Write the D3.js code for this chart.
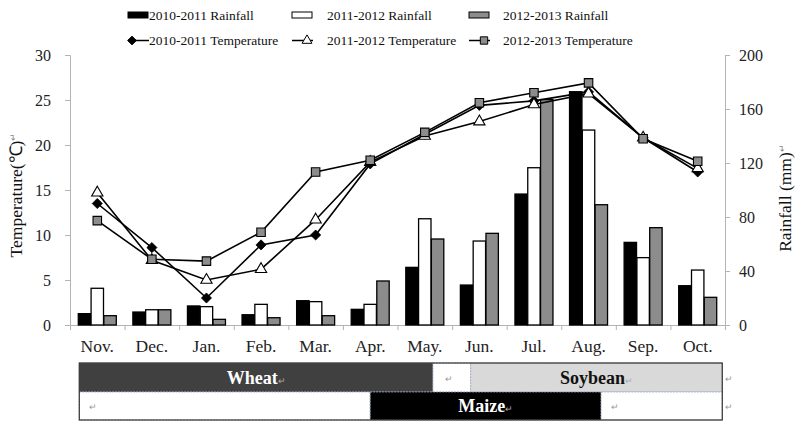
<!DOCTYPE html>
<html><head><meta charset="utf-8">
<script src="https://cdn.jsdelivr.net/npm/d3@7/dist/d3.min.js"></script>
<style>
body{margin:0;background:#fff;}
svg{display:block;font-family:"Liberation Serif","Times New Roman",serif;}
</style></head>
<body><svg id="c" width="800" height="428"></svg>
<script>
const months = ["Nov.","Dec.","Jan.","Feb.","Mar.","Apr.","May.","Jun.","Jul.","Aug.","Sep.","Oct."];
const rainNames = ["2010-2011 Rainfall","2011-2012 Rainfall","2012-2013 Rainfall"];
const tempNames = ["2010-2011 Temperature","2011-2012 Temperature","2012-2013 Temperature"];
const rain1011 = [8.4, 9.6, 14.1, 7.6, 18.0, 11.6, 42.7, 29.6, 97.0, 172.8, 61.2, 29.1];
const rain1112 = [27.2, 11.3, 13.6, 15.3, 17.3, 15.3, 78.7, 62.2, 116.5, 144.4, 49.9, 40.7];
const rain1213 = [6.9, 11.3, 4.2, 5.4, 6.9, 32.6, 63.7, 67.9, 167.0, 89.1, 72.1, 20.5];
const temp1011 = [13.5, 8.6, 3.0, 8.9, 10.0, 17.9, 21.2, 24.4, 24.9, 25.9, 20.8, 17.0];
const temp1112 = [14.7, 7.2, 5.0, 6.2, 11.7, 18.1, 21.0, 22.6, 24.5, 25.7, 20.8, 17.4];
const temp1213 = [11.6, 7.3, 7.1, 10.3, 17.0, 18.3, 21.4, 24.7, 25.8, 26.9, 20.7, 18.2];
const tempTicks = [0,5,10,15,20,25,30];
const rainTicks = [0,40,80,120,160,200];
// crop table: [label, start month, end month] (in month units from Nov. start)
const cropRow1 = [["Wheat",0.17,6.65],["",6.65,7.34],["Soybean",7.34,11.95]];
const cropRow2 = [["",0.17,5.5],["Maize",5.5,9.73],["",9.73,11.95]];

const svg = d3.select("#c");
const L = 70, R = 725, T = 55, B = 325;
const FONT = '"Liberation Serif","Times New Roman",serif';

const x = d3.scaleBand().domain(months).range([L, R]).padding(0);
const xLin = d3.scaleLinear().domain([0, 12]).range([L, R]);
const yT = d3.scaleLinear().domain([0, 30]).range([B, T]);
const yR = d3.scaleLinear().domain([0, 200]).range([B, T]);
const inner = d3.scaleBand().domain([0,1,2]).range([-19, 19]).paddingInner(0.03);

const rainSeries = [rain1011, rain1112, rain1213];
const barFills = ["#000000", "#ffffff", "#8c8c8c"];
const tempSeries = [temp1011, temp1112, temp1213];
const markerFills = ["#000000", "#ffffff", "#8c8c8c"];
const markerShapes = [d3.symbolDiamond2, d3.symbolTriangle, d3.symbolSquare];
const markerSizes = [65, 55, 72];

// axes
const axL = svg.append("g").attr("transform", `translate(${L},0)`)
  .call(d3.axisLeft(yT).tickValues(tempTicks).tickSize(5).tickPadding(14));
const axR = svg.append("g").attr("transform", `translate(${R},0)`)
  .call(d3.axisRight(yR).tickValues(rainTicks).tickSize(5).tickPadding(9));
const axB = svg.append("g").attr("transform", `translate(0,${B})`)
  .call(d3.axisBottom(xLin).tickValues(d3.range(0, 13)).tickSize(5).tickFormat(""));
const axBl = svg.append("g").attr("transform", `translate(0,${B})`)
  .call(d3.axisBottom(x).tickSize(0).tickPadding(14.5));
axBl.select(".domain").remove();
[axL, axR, axB].forEach(g => {
  g.selectAll(".domain, .tick line").attr("stroke", "#b3b3b3").attr("stroke-width", 1);
});
[axL, axR, axBl].forEach(g => {
  g.selectAll("text").attr("font-family", FONT).attr("fill", "#222");
});
axL.selectAll("text").attr("font-size", 16);
axR.selectAll("text").attr("font-size", 16);
axBl.selectAll("text").attr("font-size", 17.5);

// bars
rainSeries.forEach((s, si) => {
  svg.append("g").selectAll("rect").data(s).join("rect")
    .attr("x", (d, i) => x(months[i]) + x.bandwidth() / 2 + inner(si))
    .attr("width", inner.bandwidth())
    .attr("y", d => yR(d))
    .attr("height", d => B - yR(d))
    .attr("fill", barFills[si])
    .attr("stroke", "#000").attr("stroke-width", 1.3);
});

// lines
const line = d3.line().x((d, i) => x(months[i]) + x.bandwidth() / 2).y(d => yT(d));
tempSeries.forEach((s, si) => {
  svg.append("path").datum(s).attr("d", line)
    .attr("fill", "none").attr("stroke", "#000").attr("stroke-width", 1.6);
});
tempSeries.forEach((s, si) => {
  svg.append("g").selectAll("path").data(s).join("path")
    .attr("transform", (d, i) => `translate(${x(months[i]) + x.bandwidth() / 2},${yT(d)})`)
    .attr("d", d3.symbol().type(markerShapes[si]).size(markerSizes[si]))
    .attr("fill", markerFills[si]).attr("stroke", "#000").attr("stroke-width", si === 0 ? 0.8 : 1.1);
});

// axis titles
svg.append("text").attr("transform", "translate(22,195) rotate(-90)")
  .attr("text-anchor", "middle").attr("font-size", 17.5).attr("fill", "#111")
  .text("Temperature(℃)")
  .append("tspan").attr("font-size", 9).attr("fill", "#888").attr("dy", -6).text("↵");
svg.append("text").attr("transform", "translate(791,198) rotate(-90)")
  .attr("text-anchor", "middle").attr("font-size", 17.5).attr("fill", "#111")
  .text("Rainfall (mm)")
  .append("tspan").attr("font-size", 9).attr("fill", "#888").attr("dy", -6).text("↵");

// legend
const legX = [128, 292, 469];
const legTextX = [149, 327, 503];
rainNames.forEach((n, i) => {
  svg.append("rect").attr("x", legX[i]).attr("y", 12).attr("width", 20).attr("height", 6)
    .attr("fill", barFills[i]).attr("stroke", "#000").attr("stroke-width", 1);
  svg.append("text").attr("x", legTextX[i]).attr("y", 19.5).attr("font-size", 13.5).attr("fill", "#111").text(n);
});
tempNames.forEach((n, i) => {
  svg.append("line").attr("x1", legX[i]).attr("x2", legX[i] + 21).attr("y1", 40.5).attr("y2", 40.5)
    .attr("stroke", "#000").attr("stroke-width", 1.5);
  const mx = i === 0 ? legX[i] + 4 : legX[i] + 15;
  svg.append("path").attr("transform", `translate(${mx},40.5)`)
    .attr("d", d3.symbol().type(markerShapes[i]).size(markerSizes[i] * 0.75))
    .attr("fill", markerFills[i]).attr("stroke", "#000").attr("stroke-width", 1);
  svg.append("text").attr("x", legTextX[i]).attr("y", 45).attr("font-size", 13.5).attr("fill", "#111").text(n);
});

// crop table
const rowY = [363, 392, 420];
const cellFill = {"Wheat": "#404040", "Soybean": "#d9d9d9", "Maize": "#000000", "": "#ffffff"};
const cellText = {"Wheat": "#ffffff", "Soybean": "#111111", "Maize": "#ffffff"};
[cropRow1, cropRow2].forEach((row, ri) => {
  row.forEach(c => {
    const x0 = xLin(c[1]), x1 = xLin(c[2]);
    svg.append("rect").attr("x", x0).attr("y", rowY[ri]).attr("width", x1 - x0)
      .attr("height", rowY[ri + 1] - rowY[ri]).attr("fill", cellFill[c[0]])
      .attr("stroke", "#9aa8b8").attr("stroke-width", 0.8).attr("stroke-dasharray", "2,1");
    const cy = (rowY[ri] + rowY[ri + 1]) / 2;
    if (c[0]) {
      const t = svg.append("text").attr("x", (x0 + x1) / 2).attr("y", cy + 6)
        .attr("text-anchor", "middle").attr("font-size", 18).attr("font-weight", "bold")
        .attr("fill", cellText[c[0]]).text(c[0]);
      t.append("tspan").attr("font-size", 9).attr("font-weight", "normal").attr("fill", "#aaa").text("↵");
    } else {
      svg.append("text").attr("x", x0 + (ri === 0 ? 12 : 10)).attr("y", cy + 4)
        .attr("font-size", 9).attr("fill", "#999").text("↵");
    }
  });
  svg.append("text").attr("x", 725).attr("y", (rowY[ri] + rowY[ri + 1]) / 2 + 4)
    .attr("font-size", 9).attr("fill", "#999").text("↵");
});
svg.append("rect").attr("x", xLin(0.17)).attr("y", rowY[0]).attr("width", xLin(11.95) - xLin(0.17))
  .attr("height", rowY[2] - rowY[0]).attr("fill", "none").attr("stroke", "#333").attr("stroke-width", 1.2);
</script></body></html>
